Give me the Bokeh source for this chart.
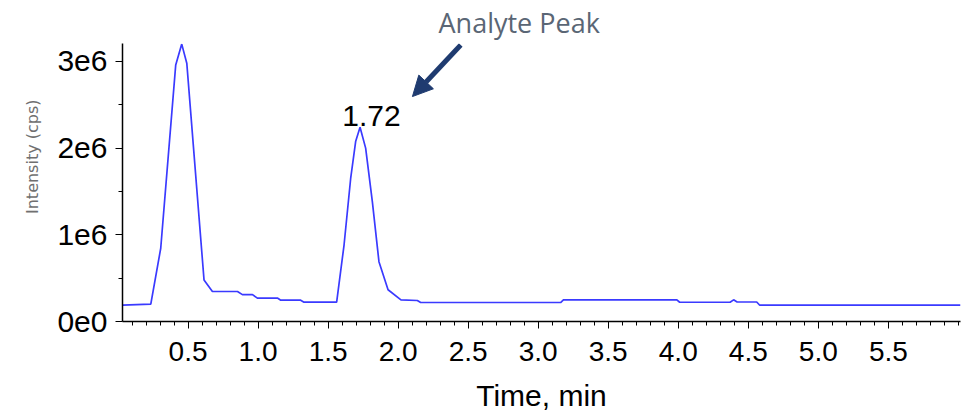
import numpy as np
from bokeh.plotting import figure
from bokeh.models import (Range1d, FixedTicker, CustomJSTickFormatter, PrintfTickFormatter,
                          Label, Arrow, NormalHead, Title)
from bokeh.embed import file_html
from bokeh.resources import INLINE

# ---- data ----
time_min = [0.032, 0.234, 0.305, 0.412, 0.455, 0.491, 0.614, 0.674, 0.853, 0.888, 0.960,
            0.995, 1.138, 1.162, 1.304, 1.328, 1.561, 1.614, 1.661, 1.697, 1.728, 1.768,
            1.816, 1.863, 1.928, 2.020, 2.137, 2.161, 3.160, 3.180, 3.990, 4.010, 4.370,
            4.395, 4.420, 4.560, 4.580, 6.015]
intensity = [0.19e6, 0.20e6, 0.845e6, 2.96e6, 3.20e6, 2.98e6, 0.48e6, 0.346e6, 0.346e6, 0.31e6, 0.31e6,
             0.27e6, 0.27e6, 0.246e6, 0.246e6, 0.223e6, 0.223e6, 0.885e6, 1.65e6, 2.08e6, 2.24e6, 2.0e6,
             1.38e6, 0.69e6, 0.366e6, 0.25e6, 0.242e6, 0.219e6, 0.219e6, 0.25e6, 0.25e6, 0.222e6, 0.222e6,
             0.25e6, 0.225e6, 0.225e6, 0.19e6, 0.19e6]

x_ticks = [0.5, 1.0, 1.5, 2.0, 2.5, 3.0, 3.5, 4.0, 4.5, 5.0, 5.5]
y_ticks = [0, 1e6, 2e6, 3e6]
y_minor = [0.5e6, 1.5e6, 2.5e6]

peak_label = "1.72"
peak_label_pos = (1.81, 2.37e6)
annot_text = "Analyte Peak"
arrow_tail = (2.447, 3.19e6)
arrow_tip = (2.102, 2.595e6)

FONT = "Liberation Sans"

p = figure(width=963, height=416, x_range=Range1d(0.032, 6.015), y_range=Range1d(0, 3.207e6),
           output_backend="svg", toolbar_location=None,
           min_border_left=122, min_border_right=3, min_border_top=42, min_border_bottom=95)
p.outline_line_color = None
p.grid.visible = False
p.background_fill_color = "white"
p.border_fill_color = "white"

p.line(time_min, intensity, color="#3a3aff", line_width=1.7)

# x axis
xa = p.xaxis[0]
xa.ticker = FixedTicker(ticks=x_ticks, minor_ticks=list(np.round(np.arange(0.1, 6.01, 0.1), 2)))
xa.formatter = PrintfTickFormatter(format="%.1f")
xa.axis_label = "Time, min"
xa.axis_label_text_font = FONT
xa.axis_label_text_font_size = "30px"
xa.axis_label_text_font_style = "normal"
xa.axis_label_text_color = "black"
xa.axis_label_standoff = 15
xa.major_label_text_font = FONT
xa.major_label_text_font_size = "28px"
xa.major_label_text_color = "black"
xa.major_label_standoff = 13

# y axis
ya = p.yaxis[0]
ya.ticker = FixedTicker(ticks=y_ticks, minor_ticks=y_minor)
ya.formatter = CustomJSTickFormatter(code="""
    if (tick == 0) { return '0e0'; }
    const e = Math.floor(Math.log10(Math.abs(tick)));
    const m = tick / Math.pow(10, e);
    return m.toFixed(0) + 'e' + e;
""")
ya.major_label_text_font = FONT
ya.major_label_text_font_size = "30px"
ya.major_label_text_color = "black"
ya.major_label_standoff = 8

for ax in (xa, ya):
    ax.axis_line_color = "black"
    ax.axis_line_width = 1.5
    ax.major_tick_line_color = "black"
    ax.minor_tick_line_color = "black"
    ax.major_tick_out = 7
    ax.major_tick_in = 0
    ax.minor_tick_out = 4
    ax.minor_tick_in = 0

# y-axis title as a side title (so it can sit off-centre like the reference)
p.add_layout(Title(text="Intensity (cps)", align="right", offset=56, standoff=26,
                   text_font="DejaVu Sans", text_font_size="16px", text_font_style="normal",
                   text_color="#707070"), "left")

# annotation text above the frame
p.add_layout(Title(text=annot_text, align="left", offset=316, standoff=4, vertical_align="middle",
                   text_font="Open Sans", text_font_size="27px", text_font_style="normal",
                   text_color="#5a6675"), "above")

# peak label
p.add_layout(Label(x=peak_label_pos[0], y=peak_label_pos[1], text=peak_label,
                   text_align="center", text_baseline="alphabetic",
                   text_font=FONT, text_font_size="30px", text_color="black"))

p.add_layout(Arrow(x_start=arrow_tail[0], y_start=arrow_tail[1], x_end=arrow_tip[0], y_end=arrow_tip[1],
                   line_color="#1f3b70", line_width=5,
                   end=NormalHead(size=20, fill_color="#1f3b70", line_color="#1f3b70")))

open("out.html", "w").write(file_html(p, INLINE))
